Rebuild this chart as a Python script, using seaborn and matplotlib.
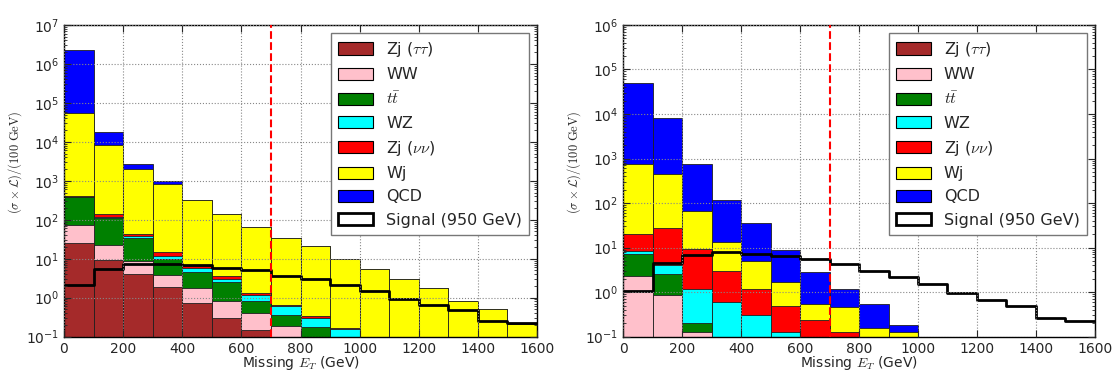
import numpy as np
import seaborn as sns
import matplotlib
matplotlib.use("Agg")
import matplotlib.pyplot as plt
from matplotlib.patches import Patch

bin_edges = list(range(0, 1700, 100))
bin_centers = [e + 50 for e in bin_edges[:-1]]

process_names = [r"Zj ($\tau\tau$)", "WW", r"$t\bar{t}$", "WZ", r"Zj ($\nu\nu$)", "Wj", "QCD"]
process_colors = ["#a52a2a", "#ffc0cb", "#008000", "#00ffff", "#ff0000", "#ffff00", "#0000ff"]
signal_name = "Signal (950 GeV)"

# left panel: per-process values per 100 GeV bin (stacked bottom -> top)
left_zjtt = [26, 9.4, 4.0, 1.9, 0.72, 0.31, 0.15, 0, 0, 0, 0, 0, 0, 0, 0, 0]
left_ww   = [49, 12.6, 4.5, 1.9, 1.08, 0.52, 0.26, 0.19, 0, 0, 0, 0, 0, 0, 0, 0]
left_tt   = [300, 90, 26.5, 6.2, 2.7, 1.77, 0.39, 0.18, 0.18, 0.08, 0, 0, 0, 0, 0, 0]
left_wz   = [5, 5, 3, 1.7, 1.3, 0.5, 0.37, 0.23, 0.13, 0.08, 0, 0, 0, 0, 0, 0]
left_zjnn = [30, 23, 6, 3.1, 0.8, 0.4, 0.13, 0.06, 0.03, 0.01, 0, 0, 0, 0, 0, 0]
left_wj   = [55590, 8360, 1956, 835, 313, 134.5, 63.7, 34.3, 20.7, 9.6, 5.6, 3.0, 1.8, 0.83, 0.51, 0.21]
left_qcd  = [2.24e6, 9300, 750, 150, 0, 0, 0, 0, 0, 0, 0, 0, 0, 0, 0, 0]
left_signal = [2.1, 5.5, 7.4, 7.5, 6.9, 5.8, 5.0, 3.7, 3.0, 2.1, 1.5, 0.93, 0.66, 0.47, 0.25, 0.22]

# right panel
right_zjtt = [0, 0, 0, 0, 0, 0, 0, 0, 0, 0, 0, 0, 0, 0, 0, 0]
right_ww   = [2.3, 0.87, 0.13, 0, 0, 0, 0, 0, 0, 0, 0, 0, 0, 0, 0, 0]
right_tt   = [4.8, 1.63, 0.07, 0, 0, 0, 0, 0, 0, 0, 0, 0, 0, 0, 0, 0]
right_wz   = [1.3, 1.6, 1.0, 0.59, 0.3, 0.13, 0, 0, 0, 0, 0, 0, 0, 0, 0, 0]
right_zjnn = [11.6, 22.9, 7.9, 2.41, 0.9, 0.36, 0.24, 0.125, 0, 0, 0, 0, 0, 0, 0, 0]
right_wj   = [750, 423, 56, 10.6, 3.8, 1.16, 0.3, 0.335, 0.16, 0.125, 0, 0, 0, 0, 0, 0]
right_qcd  = [48230, 7550, 705, 101, 31, 7.05, 2.36, 0.71, 0.38, 0.055, 0, 0, 0, 0, 0, 0]
right_signal = [1.07, 4.4, 6.9, 7.8, 7.2, 6.5, 5.5, 4.2, 3.0, 2.2, 1.5, 0.96, 0.66, 0.48, 0.26, 0.22]

sns.set_style("ticks")
plt.rcParams["font.family"] = ["DejaVu Sans"]
plt.rcParams["mathtext.fontset"] = "cm"


def draw_panel(ax, comps, signal, ymax):
    stack = np.cumsum(np.array(comps, dtype=float), axis=0)
    # draw cumulative bars from the top of the stack down
    for i in reversed(range(len(comps))):
        sns.histplot(x=bin_centers, weights=stack[i], bins=bin_edges, element="bars",
                     color=process_colors[i], alpha=1, edgecolor="#202020",
                     linewidth=0.6, ax=ax)
    sns.histplot(x=bin_centers, weights=signal, bins=bin_edges, element="step",
                 fill=False, color="black", linewidth=2, ax=ax)
    ax.set_yscale("log")
    ax.set_ylim(0.1, ymax)
    ax.set_xlim(0, 1600)
    ax.set_xticks(range(0, 1601, 200))
    ax.axvline(700, color="red", linestyle="--", linewidth=1.5, zorder=5)
    ax.grid(True, which="major", linestyle=":", color="#888888", linewidth=0.8)
    ax.set_axisbelow(False)
    ax.tick_params(direction="in", which="both", top=True, right=True, labelsize=10)
    ax.tick_params(which="major", length=5)
    ax.tick_params(which="minor", length=2.5)
    for s in ax.spines.values():
        s.set_linewidth(1.0)
        s.set_color("black")
    ax.set_xlabel(r"Missing $E_T$ (GeV)", fontsize=10, labelpad=-1)
    ax.set_ylabel(r"$(\sigma\times\mathcal{L})/(100\ \mathrm{GeV})$", fontsize=9)
    ax.yaxis.set_label_coords(-0.085, 0.56)

    handles = [Patch(facecolor=c, edgecolor="black", linewidth=0.8) for c in process_colors]
    handles.append(Patch(facecolor="white", edgecolor="black", linewidth=2))
    leg = ax.legend(handles, process_names + [signal_name], loc="upper right",
                    fontsize=11.5, fancybox=False, framealpha=1, edgecolor="#777777",
                    handlelength=2.2, handleheight=0.8, handletextpad=0.8,
                    labelspacing=0.52, borderpad=0.45, borderaxespad=0.5)
    leg.set_zorder(10)


fig = plt.figure(figsize=(11.13, 3.72), dpi=100)
ax1 = fig.add_axes([0.0575, 0.095, 0.425, 0.838])
ax2 = fig.add_axes([0.5598, 0.095, 0.424, 0.838])

draw_panel(ax1, [left_zjtt, left_ww, left_tt, left_wz, left_zjnn, left_wj, left_qcd],
           left_signal, 1e7)
draw_panel(ax2, [right_zjtt, right_ww, right_tt, right_wz, right_zjnn, right_wj, right_qcd],
           right_signal, 1e6)

fig.savefig("out.png", dpi=100)
